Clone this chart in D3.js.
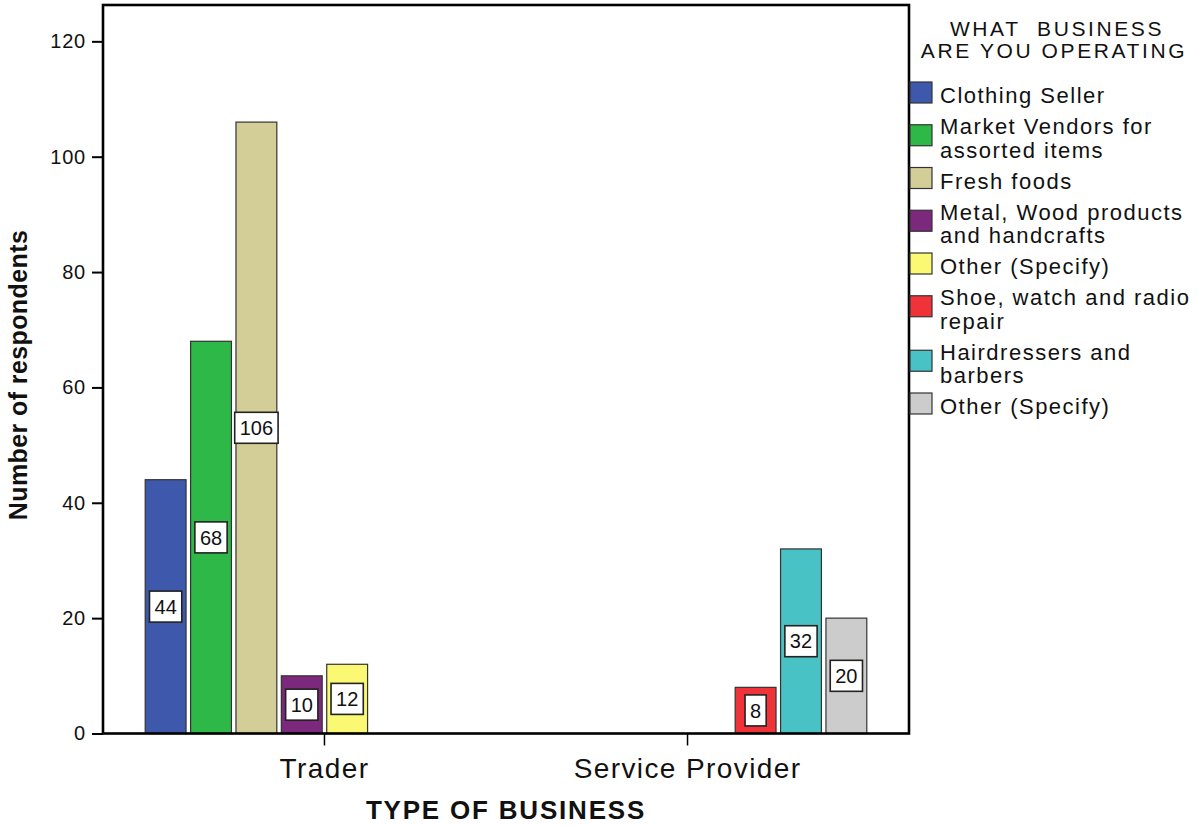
<!DOCTYPE html>
<html>
<head>
<meta charset="utf-8">
<script src="https://cdn.jsdelivr.net/npm/d3@7"></script>
<style>
  body { margin: 0; background: #fff; }
  text { font-family: "Liberation Sans", Arial, sans-serif; fill: #111; }
</style>
</head>
<body>
<script>
var width = 1198, height = 826;

// data
var categories = ["Trader", "Service Provider"];
var businesses = ["Clothing Seller", "Market Vendors for\nassorted items", "Fresh foods",
  "Metal, Wood products\nand handcrafts", "Other (Specify)", "Shoe, watch and radio\nrepair",
  "Hairdressers and\nbarbers", "Other (Specify)"];
var traderValues = [44, 68, 106, 10, 12, 0, 0, 0];
var serviceValues = [0, 0, 0, 0, 0, 8, 32, 20];
var colors = ["#3e58ac", "#2eb848", "#d3ce97", "#7c287d", "#fbf873", "#ef3338", "#48c2c5", "#cccccc"];
var yTicks = [0, 20, 40, 60, 80, 100, 120];

var seriesByCat = [traderValues, serviceValues];

var plot = {left: 103, top: 5, right: 909, bottom: 733.5};

var svg = d3.select("body").append("svg")
    .attr("width", width).attr("height", height);

var y = d3.scaleLinear().domain([0, 126.3]).range([plot.bottom, plot.top]);

var x0 = d3.scaleBand().domain(categories).range([plot.left, plot.right])
    .paddingInner(0).paddingOuter(0.11).align(0.5);
var x1 = d3.scaleBand().domain(d3.range(businesses.length)).range([0, x0.bandwidth()])
    .paddingInner(0.1).paddingOuter(0.05);

// bars
var barData = [];
categories.forEach(function(c, ci) {
  seriesByCat[ci].forEach(function(v, i) {
    if (v > 0) barData.push({cat: c, idx: i, value: v});
  });
});

svg.append("g").selectAll("rect").data(barData).enter().append("rect")
    .attr("x", function(d) { return x0(d.cat) + x1(d.idx); })
    .attr("y", function(d) { return y(d.value); })
    .attr("width", x1.bandwidth())
    .attr("height", function(d) { return y(0) - y(d.value); })
    .attr("fill", function(d) { return colors[d.idx]; })
    .attr("stroke", "#333").attr("stroke-width", 1.2);

// frame
svg.append("rect")
    .attr("x", plot.left).attr("y", plot.top)
    .attr("width", plot.right - plot.left).attr("height", plot.bottom - plot.top)
    .attr("fill", "none").attr("stroke", "#000").attr("stroke-width", 2.6);

// y axis
var yAxis = svg.append("g").attr("transform", "translate(" + plot.left + ",0)")
    .call(d3.axisLeft(y).tickValues(yTicks).tickSize(11).tickPadding(6));
yAxis.select(".domain").remove();
yAxis.selectAll("line").attr("stroke", "#000").attr("stroke-width", 2);
yAxis.selectAll("text").style("font-size", "20px").style("letter-spacing", "0.8px")
    .style("font-family", "'Liberation Sans', Arial, sans-serif").attr("fill", "#222");

// x axis
var xAxis = svg.append("g").attr("transform", "translate(0," + plot.bottom + ")")
    .call(d3.axisBottom(x0).tickSize(12).tickPadding(12.5));
xAxis.select(".domain").remove();
xAxis.selectAll("line").attr("stroke", "#000").attr("stroke-width", 1.5);
xAxis.selectAll("text").style("font-size", "28px").style("letter-spacing", "1.4px")
    .style("font-family", "'Liberation Sans', Arial, sans-serif").attr("fill", "#222");

// value labels
var labels = svg.append("g").selectAll("g").data(barData).enter().append("g")
    .attr("transform", function(d) {
      return "translate(" + (x0(d.cat) + x1(d.idx) + x1.bandwidth() / 2) + "," + ((y(d.value) + y(0)) / 2) + ")";
    });
labels.each(function(d) {
  var g = d3.select(this);
  var t = g.append("text").attr("text-anchor", "middle").attr("dy", "0.36em")
      .style("font-size", "20px").text(d.value);
  var w = t.node().getComputedTextLength();
  g.insert("rect", "text")
      .attr("x", -w / 2 - 5).attr("y", -15.5)
      .attr("width", w + 10).attr("height", 31)
      .attr("fill", "#fff").attr("stroke", "#222").attr("stroke-width", 1.6);
});

// axis titles
svg.append("text").attr("x", (plot.left + plot.right) / 2).attr("y", 819)
    .attr("text-anchor", "middle").style("font-size", "26px").style("font-weight", "bold")
    .style("letter-spacing", "1.8px").text("TYPE OF BUSINESS");

svg.append("text").attr("transform", "translate(27,375) rotate(-90)")
    .attr("text-anchor", "middle").style("font-size", "25px").style("font-weight", "bold")
    .style("letter-spacing", "0.4px").text("Number of respondents");

// legend
var legend = svg.append("g");
legend.append("text").attr("x", 1057).attr("y", 36).attr("text-anchor", "middle")
    .style("font-size", "21px").style("letter-spacing", "2.6px").attr("fill", "#222")
    .style("white-space", "pre").text("WHAT  BUSINESS");
legend.append("text").attr("x", 1054).attr("y", 58).attr("text-anchor", "middle")
    .style("font-size", "21px").style("letter-spacing", "2.6px").attr("fill", "#222")
    .text("ARE YOU OPERATING");

var lineH = 23.5, itemGap = 31, cy = 95.5;
businesses.forEach(function(name, i) {
  var lines = name.split("\n");
  var item = legend.append("g");
  lines.forEach(function(l, j) {
    item.append("text").attr("x", 940).attr("y", cy + j * lineH).attr("dy", "0.36em")
        .style("font-size", "22px").style("letter-spacing", "1.5px").attr("fill", "#222").text(l);
  });
  var mid = cy + (lines.length - 1) * lineH / 2 - 3;
  item.insert("rect", "text").attr("x", 910).attr("y", mid - 10.5)
      .attr("width", 22).attr("height", 21)
      .attr("fill", colors[i]).attr("stroke", "#333").attr("stroke-width", 1.2);
  cy += (lines.length - 1) * lineH + itemGap;
});
</script>
</body>
</html>
